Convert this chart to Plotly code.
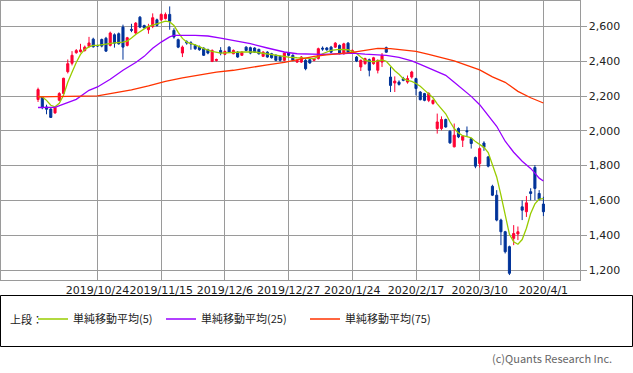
import pandas as pd
import plotly.graph_objects as go

# ---------------- data ----------------
holidays = ["2019-10-14", "2019-10-22", "2019-11-04", "2019-12-31", "2020-01-01",
            "2020-01-02", "2020-01-03", "2020-01-13", "2020-02-11", "2020-02-24",
            "2020-03-20"]
dates = [d.strftime("%Y-%m-%d") for d in pd.bdate_range("2019-10-02", "2020-04-01")
         if d.strftime("%Y-%m-%d") not in holidays]

opens = [2180, 2194, 2137, 2125, 2103, 2176, 2215, 2340, 2388, 2449,
         2455, 2462, 2485, 2527, 2490, 2525, 2532, 2491, 2552, 2558,
         2596, 2491, 2583, 2562, 2653, 2605, 2581, 2600, 2638, 2638,
         2645, 2669, 2577, 2524, 2447, 2512, 2506, 2491, 2481, 2475,
         2466, 2399, 2404, 2462, 2440, 2481, 2443, 2452, 2434, 2481,
         2478, 2476, 2468, 2428, 2452, 2443, 2434, 2428, 2405, 2447,
         2434, 2395, 2395, 2405, 2409, 2405, 2415, 2475, 2476, 2481,
         2481, 2491, 2443, 2504, 2452, 2424, 2367, 2386, 2409, 2386,
         2348, 2395, 2478, 2309, 2275, 2280, 2300, 2280, 2309, 2300,
         2223, 2214, 2175, 2157, 2013, 2013, 2065, 1998, 1908, 2013,
         1946, 2000, 1955, 1847, 1812, 1930, 1850, 1681, 1630, 1487,
         1420, 1334, 1382, 1407, 1563, 1535, 1650, 1789, 1640, 1579]
highs = [2248, 2200, 2150, 2130, 2140, 2222, 2305, 2410, 2458, 2470,
         2500, 2490, 2540, 2535, 2495, 2530, 2540, 2570, 2560, 2565,
         2610, 2540, 2615, 2625, 2660, 2610, 2615, 2675, 2645, 2675,
         2680, 2715, 2590, 2530, 2490, 2520, 2515, 2498, 2490, 2480,
         2472, 2468, 2415, 2481, 2462, 2486, 2468, 2458, 2458, 2486,
         2484, 2480, 2472, 2458, 2458, 2448, 2440, 2432, 2452, 2452,
         2440, 2410, 2430, 2412, 2415, 2420, 2478, 2485, 2482, 2488,
         2510, 2496, 2506, 2510, 2468, 2430, 2410, 2420, 2415, 2425,
         2410, 2447, 2484, 2366, 2313, 2290, 2310, 2318, 2345, 2305,
         2228, 2218, 2222, 2180, 2099, 2083, 2070, 2003, 2042, 2020,
         1975, 2025, 1960, 1852, 1905, 1940, 1855, 1690, 1659, 1495,
         1425, 1340, 1458, 1450, 1600, 1625, 1670, 1803, 1659, 1621]
lows = [2166, 2124, 2095, 2074, 2098, 2170, 2210, 2330, 2376, 2443,
        2450, 2455, 2478, 2478, 2482, 2480, 2455, 2485, 2478, 2495,
        2409, 2485, 2567, 2555, 2590, 2588, 2558, 2590, 2600, 2630,
        2640, 2581, 2530, 2475, 2424, 2495, 2466, 2465, 2460, 2430,
        2440, 2395, 2398, 2434, 2435, 2448, 2440, 2420, 2430, 2458,
        2440, 2448, 2438, 2424, 2420, 2415, 2400, 2398, 2400, 2430,
        2400, 2390, 2390, 2348, 2385, 2400, 2410, 2460, 2460, 2448,
        2476, 2440, 2438, 2445, 2445, 2395, 2344, 2380, 2313, 2380,
        2330, 2367, 2448, 2223, 2223, 2260, 2285, 2271, 2300, 2204,
        2175, 2170, 2165, 2150, 1984, 2003, 2018, 1925, 1905, 1958,
        1907, 1965, 1898, 1785, 1789, 1885, 1790, 1625, 1480, 1343,
        1295, 1171, 1343, 1372, 1487, 1505, 1600, 1602, 1600, 1510]
closes = [2237, 2133, 2124, 2077, 2135, 2214, 2302, 2386, 2434, 2461,
          2465, 2481, 2505, 2483, 2488, 2487, 2458, 2562, 2504, 2500,
          2481, 2535, 2578, 2619, 2596, 2592, 2600, 2650, 2606, 2669,
          2669, 2630, 2539, 2481, 2481, 2505, 2500, 2472, 2466, 2434,
          2447, 2462, 2410, 2447, 2456, 2452, 2462, 2424, 2452, 2462,
          2447, 2452, 2443, 2452, 2424, 2420, 2405, 2405, 2447, 2434,
          2405, 2405, 2424, 2357, 2390, 2415, 2472, 2470, 2466, 2452,
          2504, 2443, 2500, 2452, 2462, 2401, 2405, 2415, 2348, 2420,
          2405, 2434, 2452, 2261, 2286, 2267, 2290, 2300, 2338, 2243,
          2179, 2175, 2214, 2175, 2051, 2065, 2022, 1931, 1975, 1965,
          1969, 1995, 1927, 1797, 1898, 1905, 1797, 1630, 1487, 1420,
          1305, 1181, 1410, 1420, 1544, 1586, 1640, 1669, 1606, 1535]

ma5_idx = [0, 1, 2, 3, 4, 5, 6, 7, 8, 9, 10, 11, 12, 13, 14, 16, 18, 20, 21, 22,
           23, 25, 26, 28, 30, 31, 32, 33, 34, 35, 37, 39, 41, 43, 45, 48, 51, 53,
           55, 57, 59, 61, 63, 65, 66, 67, 69, 71, 73, 74, 75, 76, 77, 79, 81, 82,
           83, 84, 85, 86, 87, 88, 89, 90, 91, 92, 93, 94, 95, 96, 97, 98, 99, 100,
           101, 102, 103, 104, 105, 106, 107, 108, 109, 110, 111, 112, 113, 114,
           115, 116, 117, 118, 119]
ma5_val = [2198, 2195, 2175, 2147, 2138, 2158, 2204, 2279, 2336, 2393, 2439, 2468,
           2482, 2491, 2491, 2500, 2505, 2510, 2516, 2534, 2554, 2586, 2600, 2615,
           2630, 2626, 2606, 2566, 2531, 2510, 2494, 2472, 2457, 2447, 2451, 2453,
           2453, 2445, 2438, 2431, 2424, 2420, 2416, 2415, 2428, 2443, 2462, 2468,
           2466, 2457, 2445, 2424, 2405, 2396, 2408, 2400, 2372, 2345, 2325, 2300,
           2290, 2284, 2272, 2256, 2234, 2210, 2190, 2155, 2128, 2098, 2052, 2013,
           1988, 1972, 1966, 1960, 1938, 1920, 1905, 1875, 1810, 1735, 1630, 1520,
           1405, 1362, 1348, 1375, 1440, 1525, 1580, 1608, 1610]

ma25_idx = [0, 4, 6, 9, 12, 14, 17, 20, 23, 25, 27, 29, 31, 32, 37, 40, 43, 47, 50,
            54, 58, 61, 64, 67, 71, 74, 77, 80, 82, 85, 88, 90, 92, 94, 96, 98, 100,
            102, 104, 106, 108, 110, 112, 114, 116, 117, 118, 119]
ma25_val = [2134, 2135, 2153, 2181, 2233, 2252, 2296, 2348, 2393, 2428, 2474, 2510,
            2540, 2548, 2548, 2545, 2533, 2516, 2501, 2476, 2453, 2443, 2439, 2439,
            2443, 2447, 2441, 2438, 2434, 2422, 2402, 2382, 2362, 2342, 2319, 2279,
            2241, 2198, 2150, 2089, 2026, 1940, 1877, 1825, 1784, 1757, 1728, 1712]

ma75_idx = [0, 10, 14, 18, 22, 26, 30, 34, 38, 42, 46, 50, 54, 58, 62, 65, 68, 71,
            74, 77, 80, 83, 86, 89, 92, 95, 98, 101, 104, 107, 110, 113, 116, 119]
ma75_val = [2195, 2198, 2201, 2218, 2235, 2258, 2284, 2304, 2321, 2337, 2348, 2365,
            2379, 2393, 2411, 2428, 2436, 2442, 2451, 2462, 2474, 2472, 2465, 2457,
            2439, 2422, 2402, 2376, 2350, 2310, 2279, 2227, 2190, 2160]

tick_idx = [14, 29, 44, 59, 74, 89, 104, 119]
tick_labels = ["2019/10/24", "2019/11/15", "2019/12/6", "2019/12/27",
               "2020/1/24", "2020/2/17", "2020/3/10", "2020/4/1"]
y_ticks = [1200, 1400, 1600, 1800, 2000, 2200, 2400, 2600]

series_names = ["単純移動平均(5)", "単純移動平均(25)", "単純移動平均(75)"]

# ---------------- styles ----------------
W, H = 633, 373
RED = "#ff0033"
BLUE = "#003399"
MA_COLORS = ["#99cc00", "#9900ff", "#ff3300"]
GRID = "#9a9a9a"
LEG_LINE_X = [40, 168, 312]      # pixel x where each legend sample line starts
LEG_Y = 319
JP = "Noto Sans CJK JP"

fig = go.Figure()
fig.add_trace(go.Candlestick(
    x=dates, open=opens, high=highs, low=lows, close=closes,
    increasing=dict(line=dict(color=RED, width=1), fillcolor=RED),
    decreasing=dict(line=dict(color=BLUE, width=1), fillcolor=BLUE),
    whiskerwidth=0, showlegend=False, hoverinfo="skip"))

legend_ids = ["legend", "legend2", "legend3"]
for name, idx, vals, col, lg in zip(series_names,
                                    [ma5_idx, ma25_idx, ma75_idx],
                                    [ma5_val, ma25_val, ma75_val],
                                    MA_COLORS, legend_ids):
    fig.add_trace(go.Scatter(x=[dates[i] for i in idx], y=vals, mode="lines",
                             line=dict(color=col, width=1.3), name=name,
                             legend=lg, hoverinfo="skip"))

legend_common = dict(orientation="h", xanchor="left", yanchor="middle",
                     bgcolor="rgba(0,0,0,0)", borderwidth=0,
                     font=dict(family=JP, size=11, color="#222"))
leg_layout = {}
for lg, lx in zip(legend_ids, LEG_LINE_X):
    leg_layout[lg] = dict(legend_common, x=(lx - 7) / W, y=(H - LEG_Y) / H)

fig.update_layout(
    width=W, height=H,
    margin=dict(l=0, r=0, t=0, b=0),
    paper_bgcolor="white", plot_bgcolor="white",
    showlegend=True,
    xaxis=dict(type="category", domain=[0.5 / W, 579.5 / W], range=[-8.84, 127.5],
               tickvals=[dates[i] for i in tick_idx], ticktext=tick_labels,
               showgrid=True, gridcolor=GRID, gridwidth=1,
               showline=True, linecolor=GRID, linewidth=1, mirror=True,
               ticks="", rangeslider=dict(visible=False), automargin=False,
               tickfont=dict(family="DejaVu Sans", size=11, color="#222"),
               tickangle=0),
    yaxis=dict(domain=[(H - 280) / H, 1 - 0.5 / H], range=[1142.6, 2749],
               side="right", tickvals=y_ticks, tickformat=",d",
               showgrid=True, gridcolor=GRID, gridwidth=1, zeroline=False,
               showline=True, linecolor=GRID, linewidth=1, mirror=True,
               ticks="outside", ticklen=6, tickcolor=GRID, automargin=False,
               tickfont=dict(family="DejaVu Sans", size=11, color="#222")),
    shapes=[dict(type="rect", xref="paper", yref="paper",
                 x0=0.5 / W, x1=632.5 / W, y0=(H - 346.5) / H, y1=(H - 295.5) / H,
                 line=dict(color="black", width=1))],
    annotations=[
        dict(text="上段：", xref="paper", yref="paper", x=8 / W, y=(H - LEG_Y) / H,
             xanchor="left", yanchor="middle", showarrow=False,
             font=dict(family=JP, size=11, color="#222")),
        dict(text="(c)Quants Research Inc.", xref="paper", yref="paper",
             x=614 / W, y=(H - 358) / H, xanchor="right", yanchor="middle",
             showarrow=False, font=dict(family=JP, size=11, color="#666"))],
    **leg_layout,
)

fig.write_html("out.html", config={"displayModeBar": False},
               post_script="document.body.style.margin='0';")
